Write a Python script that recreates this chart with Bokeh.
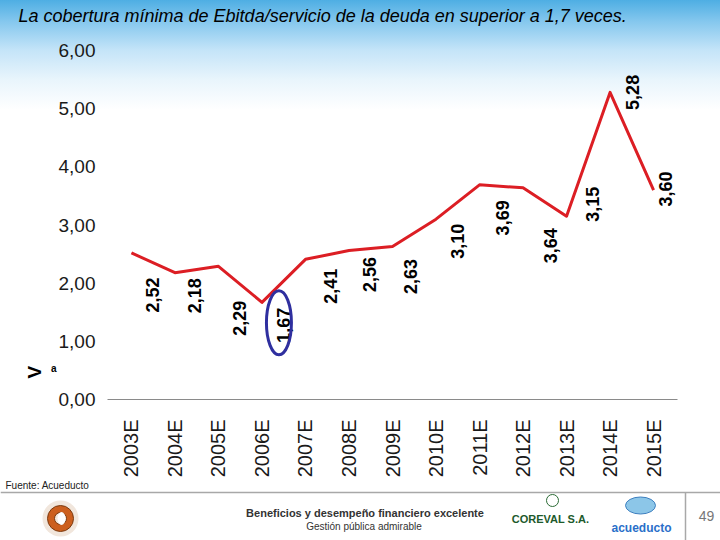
from math import pi

from bokeh.plotting import figure
from bokeh.layouts import column
from bokeh.models import (Range1d, FactorRange, Title, LinearAxis, FixedTicker,
                          CustomJSTickFormatter, ColumnDataSource)
from bokeh.transform import dodge
from bokeh.core.properties import value
from bokeh.embed import file_html
from bokeh.resources import INLINE

# ---------------- data ----------------
years = ["2003E", "2004E", "2005E", "2006E", "2007E", "2008E", "2009E",
         "2010E", "2011E", "2012E", "2013E", "2014E", "2015E"]
coverage = [2.52, 2.18, 2.29, 1.67, 2.41, 2.56, 2.63, 3.10, 3.69, 3.64, 3.15, 5.28, 3.60]
value_labels = ["2,52", "2,18", "2,29", "1,67", "2,41", "2,56", "2,63",
                "3,10", "3,69", "3,64", "3,15", "5,28", "3,60"]
y_ticks = [0, 1, 2, 3, 4, 5, 6]
y_tick_labels = ["0,00", "1,00", "2,00", "3,00", "4,00", "5,00", "6,00"]

title_text = "La cobertura mínima de Ebitda/servicio de la deuda en superior a 1,7 veces."
axis_title_1 = "V"
axis_title_2 = "a"
source_text = "Fuente: Acueducto"
footer_line1 = "Beneficios y desempeño financiero excelente"
footer_line2 = "Gestión pública admirable"
page_number = "49"

# label placement (screen pixels, layout only)
label_dx = [21, 20, 21, 22, 25, 21, 18, 21, 23, 27, 26, 22, 12]
label_dy = [42, 23, 52, 23, 27, 24, 30, 22, 33, 58, -12, 0, -1]

FONT = "Liberation Sans"

# ---------------- main chart ----------------
p = figure(width=720, height=480,
           x_range=FactorRange(factors=years, range_padding=0.05,
                               range_padding_units="absolute"),
           y_range=Range1d(0, 6), title_location=None,
           output_backend="svg", toolbar_location=None,
           min_border_left=107, min_border_right=43,
           min_border_top=50, min_border_bottom=77)
p.border_fill_color = None
p.background_fill_color = None
p.outline_line_color = None
p.grid.visible = False
p.frame_align = False
p.styles = {"background": "linear-gradient(180deg, #4eaee3 0px, #86c8ee 22px, #c4e4f8 50px, #e9f5fc 80px, #ffffff 110px)"}

# spacer (closest to the frame) then the slide title above it
p.add_layout(Title(text=" ", text_font_size="10px", standoff=9), "above")
p.add_layout(Title(text=title_text, align="left", offset=18 - 107, standoff=5,
                   text_font=FONT, text_font_style="italic",
                   text_font_size="18px", text_color="black"), "above")

p.yaxis.ticker = y_ticks
p.yaxis.major_label_overrides = {t: s for t, s in zip(y_ticks, y_tick_labels)}
p.yaxis.axis_line_color = None
p.yaxis.major_tick_line_color = None
p.yaxis.minor_tick_line_color = None
p.yaxis.major_label_standoff = 6
p.yaxis.major_label_text_font = FONT
p.yaxis.major_label_text_font_size = "19px"
p.yaxis.major_label_text_color = "#1a1a1a"

# small "a" and rotated "V" beside the value axis
a_axis = LinearAxis(ticker=FixedTicker(ticks=[0.54]),
                    formatter=CustomJSTickFormatter(code="return '%s'" % axis_title_2),
                    axis_line_color=None, major_tick_line_color=None,
                    minor_tick_line_color=None, major_label_standoff=-7,
                    major_label_text_font=FONT,
                    major_label_text_font_style="bold",
                    major_label_text_font_size="10px",
                    major_label_text_color="black")
p.add_layout(a_axis, "left")
v_axis = LinearAxis(ticker=FixedTicker(ticks=[0.58]),
                    formatter=CustomJSTickFormatter(code="return '%s'" % axis_title_1),
                    axis_line_color=None, major_tick_line_color=None,
                    minor_tick_line_color=None, major_label_standoff=7,
                    major_label_orientation=pi / 2,
                    major_label_text_font=FONT,
                    major_label_text_font_style="bold",
                    major_label_text_font_size="19px",
                    major_label_text_color="black")
p.add_layout(v_axis, "left")

p.xaxis.axis_line_color = "#8a8a8a"
p.xaxis.axis_line_width = 1
p.xaxis.major_tick_line_color = None
p.xaxis.major_label_orientation = pi / 2
p.xaxis.major_label_standoff = 14
p.xaxis.major_label_text_font = FONT
p.xaxis.major_label_text_font_size = "20px"
p.xaxis.major_label_text_color = "#1a1a1a"

src = ColumnDataSource(dict(x=years, y=coverage, label=value_labels,
                            dx=label_dx, dy=label_dy))
p.line(x="x", y="y", source=src, line_color="#dc1e24", line_width=3,
       line_join="round")
p.text(x="x", y="y", text="label", source=src, angle=pi / 2,
       x_offset="dx", y_offset="dy", text_align="center",
       text_baseline="middle", text_font=value(FONT),
       text_font_style="bold", text_font_size="18px", text_color="black")

# highlight ellipse around the minimum value
i_min = coverage.index(min(coverage))
ell_src = ColumnDataSource(dict(x=[years[i_min]], y=[coverage[i_min] - 0.35]))
p.ellipse(x=dodge("x", 0.39, range=p.x_range), y="y", source=ell_src,
          width=25, height=64, width_units="screen", height_units="screen",
          fill_color=None, line_color="#2f2f9f", line_width=3)

# ---------------- footer ----------------
f = figure(width=720, height=60, x_range=Range1d(0, 720), y_range=Range1d(0, 60),
           output_backend="svg", toolbar_location=None, min_border=0,
           x_axis_location=None, y_axis_location=None)
f.outline_line_color = None
f.grid.visible = False
f.frame_align = False
f.border_fill_color = "white"
f.background_fill_color = "white"

f.text(x=[5], y=[55], text=[source_text], text_font=value(FONT),
       text_font_size="10px", text_baseline="middle", text_color="#222222")
f.line(x=[0, 720], y=[48, 48], line_color="#a8a8a8", line_width=1.5)
f.line(x=[685, 685], y=[48, 0], line_color="#a8a8a8", line_width=1.5)
f.text(x=[706], y=[25], text=[page_number], text_font=value(FONT),
       text_font_size="14px", text_align="center", text_baseline="middle",
       text_color="#777777")
f.text(x=[364.5], y=[28], text=[footer_line1], text_font=value(FONT),
       text_font_style="bold", text_font_size="11px", text_align="center",
       text_baseline="middle", text_color="#333333")
f.text(x=[363.5], y=[14], text=[footer_line2], text_font=value(FONT),
       text_font_size="10px", text_align="center", text_baseline="middle",
       text_color="#333333")

# logos (simplified)
f.circle(x=[60], y=[22], radius=18, fill_color="#f1e6dc", line_color=None)
f.annulus(x=[60], y=[22], inner_radius=6, outer_radius=13,
          fill_color="#cc5f1e", line_color="#7a3a10")
f.ellipse(x=[61], y=[22], width=8, height=13, fill_color="white", line_color=None)

f.circle(x=[552], y=[40], radius=6, fill_color="white", line_color="#2b6b35",
         line_width=1)
f.text(x=[550], y=[22], text=["COREVAL S.A."], text_font=value(FONT),
       text_font_style="bold", text_font_size="11px", text_align="center",
       text_baseline="middle", text_color="#1d5a2b")
f.ellipse(x=[640], y=[35], width=30, height=17, fill_color="#8cc6e8",
          line_color="#3d7fbf")
f.text(x=[641], y=[13], text=["acueducto"], text_font=value(FONT),
       text_font_style="bold", text_font_size="12px", text_align="center",
       text_baseline="middle", text_color="#2a6fc9")

layout = column(p, f, spacing=0)
open("out.html", "w").write(file_html(layout, INLINE))
